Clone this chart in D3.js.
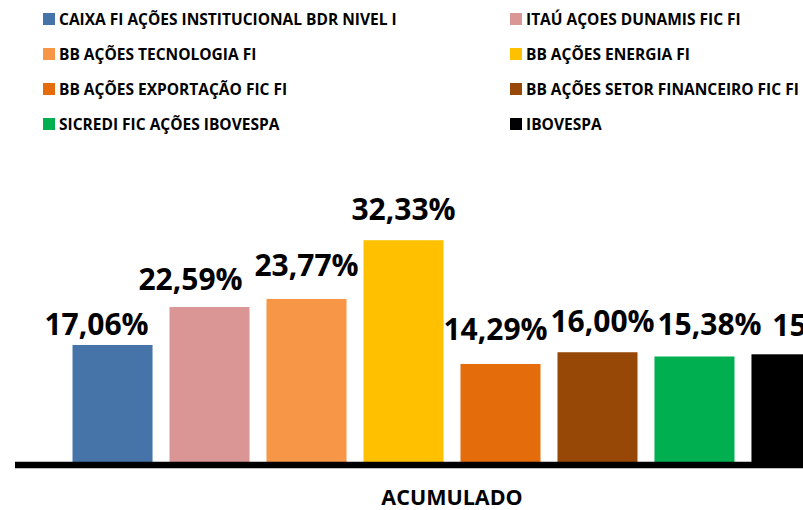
<!DOCTYPE html>
<html>
<head>
<meta charset="utf-8">
<script src="https://cdn.jsdelivr.net/npm/d3@7"></script>
<style>
  body { margin: 0; background: #fff; overflow: hidden; }
  text { font-family: "Open Sans", "Noto Sans", sans-serif; font-weight: bold; fill: #000; }
</style>
</head>
<body>
<div id="chart"></div>
<script>
let categories = ["ACUMULADO"];
let funds = [
    "CAIXA FI AÇÕES INSTITUCIONAL BDR NIVEL I",
    "ITAÚ AÇOES DUNAMIS FIC FI",
    "BB AÇÕES TECNOLOGIA FI",
    "BB AÇÕES ENERGIA FI",
    "BB AÇÕES EXPORTAÇÃO FIC FI",
    "BB AÇÕES SETOR FINANCEIRO FIC FI",
    "SICREDI FIC AÇÕES IBOVESPA",
    "IBOVESPA"
];
let values = [17.06, 22.59, 23.77, 32.33, 14.29, 16.00, 15.38, 15.70];
let colors = ["#4674A8","#DA9694","#F79646","#FFC000","#E46C0A","#974706","#00B050","#000000"];

// excel pushed some labels around so they don't collide: [dx, gap above bar]
let labelNudge = [[-16,10],[-19,17],[0,23],[0,20],[-5,24],[5,20],[15,21],[33,18]];

let width = 803, height = 510;

let svg = d3.select("#chart").append("svg")
    .attr("width", width)
    .attr("height", height);

// legend, two columns
let legend = svg.append("g");
funds.forEach((f, i) => {
    let col = i % 2, row = Math.floor(i / 2);
    let lx = col === 0 ? 43 : 510;
    let ly = 19 + row * 35;
    legend.append("rect")
        .attr("x", lx)
        .attr("y", ly - 6)
        .attr("width", 12)
        .attr("height", 12)
        .attr("fill", colors[i]);
    legend.append("text")
        .attr("x", lx + 16)
        .attr("y", ly)
        .attr("dy", "0.36em")
        .style("font-size", "15.5px")
        .text(f);
});

// scales
let x0 = d3.scaleBand()
    .domain(categories)
    .range([15, 889]);

let x1 = d3.scaleBand()
    .domain(funds)
    .range([x0(categories[0]), x0(categories[0]) + x0.bandwidth()])
    .paddingInner(0.175)
    .paddingOuter(0.593);

let y = d3.scaleLinear()
    .domain([0, 35])
    .range([462, 462 - 6.86 * 35]);

// bars
svg.append("g").selectAll("rect")
    .data(values)
    .join("rect")
    .attr("x", (d, i) => x1(funds[i]))
    .attr("y", d => y(d))
    .attr("width", x1.bandwidth())
    .attr("height", d => y(0) - y(d))
    .attr("fill", (d, i) => colors[i]);

// value labels
svg.append("g").selectAll("text")
    .data(values)
    .join("text")
    .attr("x", (d, i) => x1(funds[i]) + x1.bandwidth() / 2 + labelNudge[i][0])
    .attr("y", (d, i) => y(d) - labelNudge[i][1])
    .attr("text-anchor", "middle")
    .style("font-size", "30px")
    .text(d => d.toFixed(2).replace(".", ",") + "%");

// thick baseline
svg.append("line")
    .attr("x1", 15)
    .attr("x2", 889)
    .attr("y1", y(0) + 3)
    .attr("y2", y(0) + 3)
    .attr("stroke", "#000")
    .attr("stroke-width", 6.5);

// category axis
let xAxis = svg.append("g")
    .attr("transform", "translate(0," + (y(0) + 6) + ")")
    .call(d3.axisBottom(x0).tickSize(0).tickPadding(22));
xAxis.select(".domain").remove();
xAxis.selectAll("text")
    .style("font-size", "21.5px")
    .style("font-family", "'Open Sans', sans-serif");
</script>
</body>
</html>
